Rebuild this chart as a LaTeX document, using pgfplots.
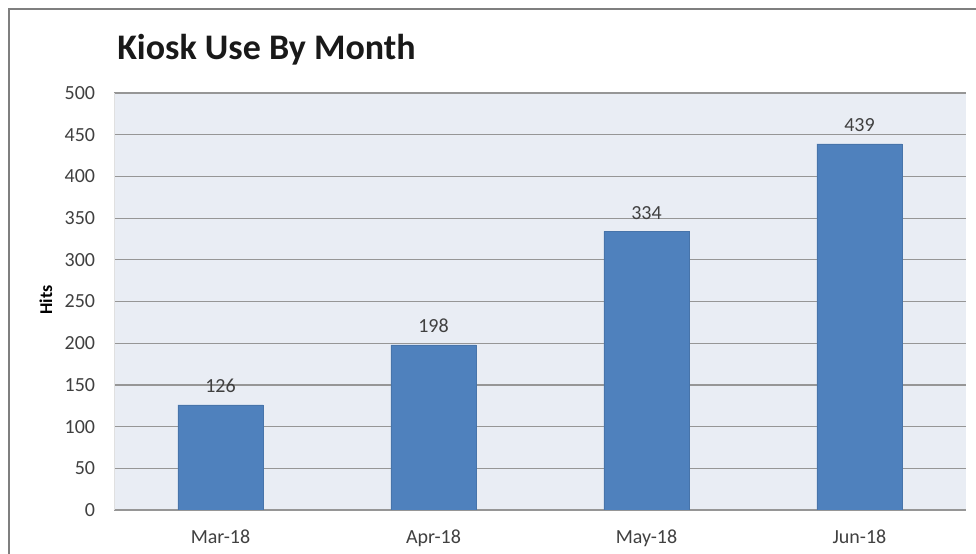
\documentclass[border=0pt]{standalone}
\usepackage{pgfplots}
\pgfplotsset{compat=1.18}
\usepackage{fontspec}
\setmainfont{Carlito}
\definecolor{barblue}{HTML}{4F81BD}
\definecolor{plotbg}{HTML}{E9EDF4}
\definecolor{gridgray}{HTML}{969696}
\definecolor{txtgray}{HTML}{404040}
\definecolor{framegray}{HTML}{7F7F7F}
\begin{document}
\begin{tikzpicture}[x=0.75pt,y=0.75pt]
\useasboundingbox (0,0) rectangle (976,554);
\draw[framegray, line width=1.1pt] (9,-20) -- (9,545) -- (1000,545);
\begin{axis}[
  at={(85.5pt,33pt)}, anchor=south west,
  scale only axis, width=639pt, height=312.75pt,
  xmin=-0.5, xmax=3.5, ymin=0, ymax=500,
  ybar, bar width=0.40,
  /pgf/bar shift=0pt,
  /pgf/number format/assume math mode=true,
  xtick=data, xticklabels={Mar-18,Apr-18,May-18,Jun-18},
  ytick={0,50,...,500},
  major tick length=0pt,
  ymajorgrids, grid style={gridgray, line width=0.9pt},
  axis background/.style={fill=plotbg},
  axis x line*=bottom, axis y line*=left,
  x axis line style={gridgray, line width=0.9pt, -},
  y axis line style={draw=black!12, line width=0.6pt, -},
  tick label style={font=\fontsize{15}{18}\selectfont, text=txtgray, inner sep=0pt},
  yticklabel style={anchor=east, xshift=-14pt},
  xticklabel style={anchor=base, yshift=-25.5pt},
  nodes near coords,
  every node near coord/.append style={font=\fontsize{15}{18}\selectfont, text=txtgray, anchor=base, inner sep=0pt, yshift=9pt},
]
\addplot[fill=barblue, draw=barblue!90!black, line width=0.4pt] coordinates {(0,126) (1,198) (2,334) (3,439)};
\end{axis}
\node[anchor=base west, inner sep=0pt, font=\fontsize{27}{32}\selectfont\bfseries, text=black!90] at (117,494) {Kiosk Use By Month};
\node[rotate=90, inner sep=0pt, font=\fontsize{13.5}{16}\selectfont\bfseries] at (46,254) {Hits};
\end{tikzpicture}
\end{document}
